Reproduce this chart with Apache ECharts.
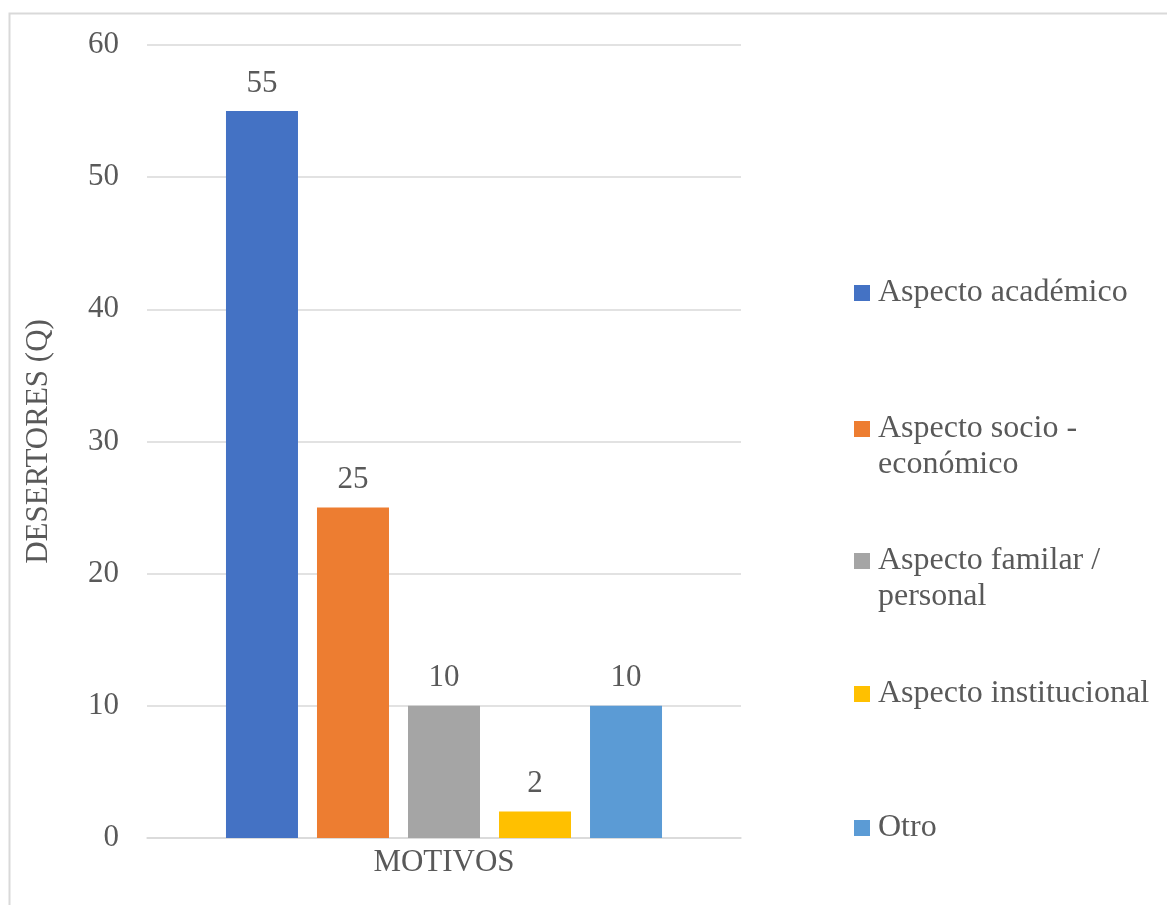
<!DOCTYPE html>
<html>
<head>
<meta charset="utf-8">
<script src="https://cdn.jsdelivr.net/npm/echarts@6/dist/echarts.min.js"></script>
<style>
    html, body { margin: 0; padding: 0; background: #fff; }
    #chart { width: 1167px; height: 905px; }
</style>
</head>
<body>
<div id="chart"></div>
<script>
    // datos del gráfico
    var categories = ['MOTIVOS'];
    var seriesNames = ['Aspecto académico', 'Aspecto socio - económico', 'Aspecto familar / personal', 'Aspecto institucional', 'Otro'];
    var legendLabels = ['Aspecto académico', 'Aspecto socio -\neconómico', 'Aspecto familar /\npersonal', 'Aspecto institucional', 'Otro'];
    var values = [55, 25, 10, 2, 10];
    var colors = ['#4472C4', '#ED7D31', '#A5A5A5', '#FFC000', '#5B9BD5'];

    var font = '"Liberation Serif", "Times New Roman", serif';
    var textColor = '#595959';

    var chart = echarts.init(document.getElementById('chart'));

    // centro vertical del marcador de cada entrada de la leyenda
    var legendCenters = [293, 429, 561, 694, 828];

    var legends = seriesNames.map(function(name, i) {
        var multi = legendLabels[i].indexOf('\n') >= 0;
        return {
            data: [name],
            orient: 'vertical',
            left: 854,
            top: legendCenters[i] - (multi ? 54 : 18),
            padding: 0,
            icon: 'rect',
            itemWidth: 16,
            itemHeight: 16,
            selectedMode: false,
            formatter: function() {
                // línea vacía arriba para alinear el marcador con la primera línea
                return multi ? '\n' + legendLabels[i] : legendLabels[i];
            },
            textStyle: {
                fontFamily: font,
                fontSize: 32,
                lineHeight: 36,
                color: textColor,
                padding: [0, 0, 0, 3]
            }
        };
    });

    var option = {
        backgroundColor: '#fff',
        animation: false,
        graphic: [{
            type: 'rect',
            shape: { x: 9.5, y: 13.5, width: 1300, height: 1000 },
            style: { fill: 'none', stroke: '#d9d9d9', lineWidth: 2 },
            silent: true
        }],
        grid: {
            left: 147,
            right: 426,
            top: 45,
            bottom: 67
        },
        legend: legends,
        xAxis: {
            type: 'category',
            data: categories,
            axisLine: { show: true, lineStyle: { color: '#d9d9d9', width: 1.5 } },
            axisTick: { show: false },
            axisLabel: {
                fontFamily: font,
                fontSize: 31,
                color: textColor,
                margin: 9
            }
        },
        yAxis: {
            type: 'value',
            min: 0,
            max: 60,
            interval: 10,
            name: 'DESERTORES (Q)',
            nameLocation: 'middle',
            nameGap: 93,
            nameTextStyle: {
                fontFamily: font,
                fontSize: 31,
                color: textColor
            },
            axisLine: { show: false },
            axisTick: { show: false },
            axisLabel: {
                fontFamily: font,
                fontSize: 31,
                color: textColor,
                margin: 28,
                padding: [4, 0, 0, 0]
            },
            splitLine: { lineStyle: { color: '#d9d9d9', width: 1.5 } }
        },
        series: seriesNames.map(function(name, i) {
            return {
                name: name,
                type: 'bar',
                data: [values[i]],
                barWidth: 72,
                barGap: '26.4%',
                itemStyle: { color: colors[i] },
                label: {
                    show: true,
                    position: 'top',
                    distance: 12,
                    fontFamily: font,
                    fontSize: 31,
                    color: textColor
                }
            };
        })
    };

    chart.setOption(option);

    window.onresize = function() {
        chart.resize();
    };
</script>
</body>
</html>
